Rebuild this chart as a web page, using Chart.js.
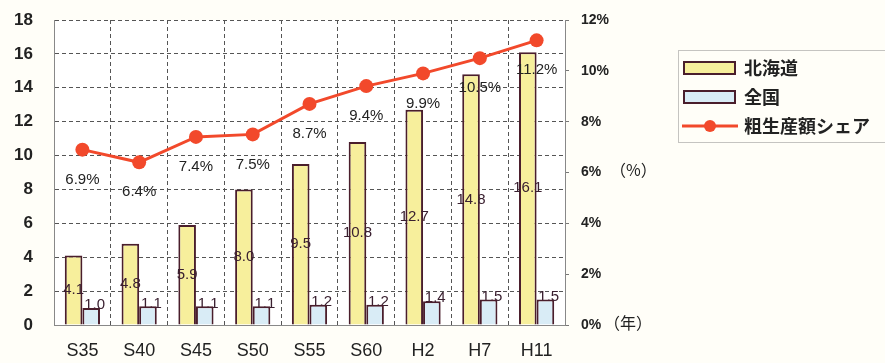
<!DOCTYPE html>
<html>
<head>
<meta charset="utf-8">
<script src="https://cdn.jsdelivr.net/npm/chart.js@4/dist/chart.umd.min.js"></script>
<style>
  html, body { margin: 0; padding: 0; background: #fffef8; }
  canvas { display: block; }
</style>
</head>
<body>
<canvas id="myChart" width="885" height="363"></canvas>
<script>
// 年次
const categories = ['S35', 'S40', 'S45', 'S50', 'S55', 'S60', 'H2', 'H7', 'H11'];
// 北海道・全国 (棒)
const hokkaido = [4.1, 4.8, 5.9, 8.0, 9.5, 10.8, 12.7, 14.8, 16.1];
const zenkoku = [1.0, 1.1, 1.1, 1.1, 1.2, 1.2, 1.4, 1.5, 1.5];
// 粗生産額シェア (%)
const share = [6.9, 6.4, 7.4, 7.5, 8.7, 9.4, 9.9, 10.5, 11.2];

const leftTicks = [0, 2, 4, 6, 8, 10, 12, 14, 16, 18];
const rightTicks = [0, 2, 4, 6, 8, 10, 12];

const YELLOW = '#f7ef9c';
const BLUE = '#d9ecf6';
const EDGE = '#4a1e2c';
const RED = '#f2492b';
const INK = '#222222';
const GRID = '#555555';
const JP = '"Noto Sans CJK JP", "Noto Sans", sans-serif';
const LAT = '"Liberation Sans", Arial, sans-serif';

const labelPlugin = {
  id: 'labels',
  beforeDraw(chart) {
    const { ctx, chartArea: a } = chart;
    ctx.save();
    ctx.fillStyle = '#fffef8';
    ctx.fillRect(0, 0, chart.width, chart.height);
    ctx.fillStyle = '#ffffff';
    ctx.fillRect(a.left, a.top, a.right - a.left, a.bottom - a.top);
    ctx.restore();
  },
  beforeDatasetsDraw(chart) {
    // 全国の値は棒の右肩に寄せる（棒に一部隠れる）
    const { ctx } = chart;
    const meta = chart.getDatasetMeta(1);
    ctx.save();
    ctx.font = '15px ' + LAT;
    ctx.fillStyle = '#3a2030';
    ctx.textAlign = 'right';
    ctx.textBaseline = 'middle';
    meta.data.forEach((bar, i) => {
      ctx.fillText(zenkoku[i].toFixed(1), bar.x + bar.width / 2 + 5, bar.y - 3);
    });
    ctx.restore();
  },
  afterDatasetsDraw(chart) {
    const { ctx } = chart;
    ctx.save();
    ctx.textAlign = 'center';
    ctx.textBaseline = 'middle';
    ctx.font = '15px ' + LAT;
    ctx.fillStyle = '#3a2030';
    chart.getDatasetMeta(0).data.forEach((bar, i) => {
      ctx.fillText(hokkaido[i].toFixed(1), bar.x, (bar.y + bar.base) / 2);
    });
    ctx.fillStyle = INK;
    chart.getDatasetMeta(2).data.forEach((pt, i) => {
      ctx.fillText(share[i].toFixed(1) + '%', pt.x, pt.y + 30);
    });
    ctx.restore();
  },
  afterDraw(chart) {
    const { ctx } = chart;
    ctx.save();
    ctx.fillStyle = INK;
    ctx.textBaseline = 'middle';
    ctx.textAlign = 'left';
    ctx.font = '16px ' + JP;
    ctx.fillText('（%）', 610, 170);
    ctx.fillText('（年）', 604, 323);

    // 凡例
    ctx.strokeStyle = '#8a8a8a';
    ctx.lineWidth = 1;
    ctx.setLineDash([1, 1]);
    ctx.strokeRect(678.5, 50.5, 220, 92);
    ctx.setLineDash([]);

    ctx.lineWidth = 2;
    ctx.strokeStyle = EDGE;
    ctx.fillStyle = YELLOW;
    ctx.fillRect(684, 62, 51, 12);
    ctx.strokeRect(684, 62, 51, 12);
    ctx.fillStyle = BLUE;
    ctx.fillRect(684, 91, 51, 12);
    ctx.strokeRect(684, 91, 51, 12);

    ctx.strokeStyle = RED;
    ctx.lineWidth = 3;
    ctx.beginPath();
    ctx.moveTo(682, 126);
    ctx.lineTo(738, 126);
    ctx.stroke();
    ctx.fillStyle = RED;
    ctx.beginPath();
    ctx.arc(710, 126, 6, 0, Math.PI * 2);
    ctx.fill();

    ctx.fillStyle = INK;
    ctx.font = 'bold 18px ' + JP;
    ctx.fillText('北海道', 744, 68);
    ctx.fillText('全国', 744, 97);
    ctx.fillText('粗生産額シェア', 744, 126);
    ctx.restore();
  }
};

// 縦軸の幅を固定し、上下の余白は layout.padding に任せる
function fixWidth(w) {
  return scale => {
    scale.width = w;
    scale.paddingTop = 0;
    scale.paddingBottom = 0;
  };
}

const ctx = document.getElementById('myChart').getContext('2d');
new Chart(ctx, {
  type: 'bar',
  data: {
    labels: categories,
    datasets: [
      {
        label: '北海道',
        data: hokkaido,
        backgroundColor: YELLOW,
        borderColor: EDGE,
        borderWidth: 2,
        borderSkipped: 'bottom',
        yAxisID: 'y',
        order: 2
      },
      {
        label: '全国',
        data: zenkoku,
        backgroundColor: BLUE,
        borderColor: EDGE,
        borderWidth: 2,
        borderSkipped: 'bottom',
        yAxisID: 'y',
        order: 2
      },
      {
        type: 'line',
        label: '粗生産額シェア',
        data: share,
        borderColor: RED,
        backgroundColor: RED,
        borderWidth: 3,
        pointRadius: 7,
        pointBackgroundColor: RED,
        pointBorderWidth: 0,
        tension: 0,
        yAxisID: 'y1',
        order: 1
      }
    ]
  },
  options: {
    responsive: false,
    animation: false,
    layout: { padding: { top: 20, right: 245, left: 0, bottom: 0 } },
    datasets: {
      bar: { categoryPercentage: 0.62, barPercentage: 1.0 }
    },
    plugins: {
      legend: { display: false },
      tooltip: { enabled: false }
    },
    scales: {
      x: {
        grid: { color: GRID, lineWidth: 1, drawTicks: false },
        border: { display: true, color: '#888', dash: [4, 3] },
        ticks: {
          color: INK,
          font: { family: LAT, size: 18 },
          padding: 15
        },
        afterFit(scale) { scale.height = 38; }
      },
      y: {
        position: 'left',
        min: 0,
        max: 18,
        afterBuildTicks(scale) { scale.ticks = leftTicks.map(v => ({ value: v })); },
        grid: { color: GRID, drawTicks: false },
        border: { display: true, color: '#888', dash: [4, 3] },
        ticks: {
          color: INK,
          font: { family: LAT, size: 17, weight: 'bold' },
          padding: 21
        },
        afterFit: fixWidth(54)
      },
      y1: {
        position: 'right',
        min: 0,
        max: 12,
        afterBuildTicks(scale) { scale.ticks = rightTicks.map(v => ({ value: v })); },
        grid: { drawOnChartArea: false, color: '#777', tickLength: 4 },
        border: { display: true, color: '#888' },
        ticks: {
          color: INK,
          font: { family: LAT, size: 14, weight: 'bold' },
          padding: 12,
          callback: v => v + '%'
        },
        afterFit: fixWidth(75)
      }
    }
  },
  plugins: [labelPlugin]
});
</script>
</body>
</html>
